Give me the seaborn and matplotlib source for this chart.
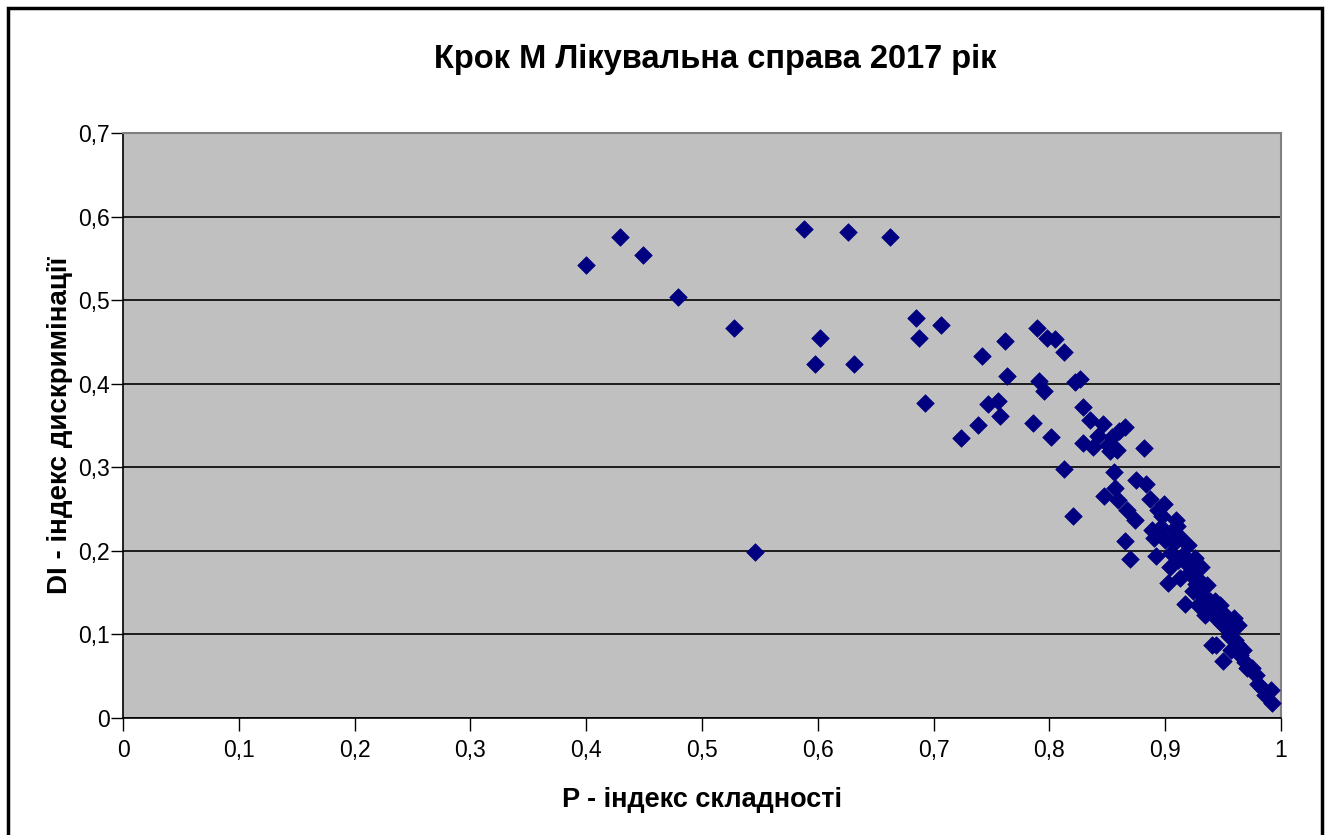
import pandas as pd
import seaborn as sns
import matplotlib.pyplot as plt
from matplotlib.patches import Rectangle
from matplotlib.ticker import FuncFormatter, MultipleLocator

# P - difficulty index, DI - discrimination index
p_index = [
    0.400, 0.429, 0.449, 0.479, 0.528, 0.546, 0.588, 0.598, 0.602, 0.626,
    0.631, 0.662, 0.685, 0.687, 0.706, 0.693, 0.724, 0.738, 0.742, 0.747,
    0.756, 0.757, 0.762, 0.763, 0.786, 0.789, 0.791, 0.795, 0.798, 0.801,
    0.805, 0.813, 0.813, 0.820, 0.822, 0.826, 0.829, 0.829, 0.835, 0.838,
    0.842, 0.846, 0.847, 0.851, 0.854, 0.856, 0.857, 0.860, 0.858, 0.865,
    0.852, 0.859, 0.865, 0.867, 0.870, 0.874, 0.875, 0.882, 0.883, 0.887,
    0.889, 0.892, 0.894, 0.897, 0.899, 0.900, 0.902, 0.904, 0.907, 0.908,
    0.909, 0.911, 0.913, 0.915, 0.917, 0.920, 0.921, 0.924, 0.926, 0.928,
    0.929, 0.931, 0.933, 0.934, 0.936, 0.939, 0.940, 0.942, 0.944, 0.946,
    0.947, 0.950, 0.952, 0.954, 0.957, 0.959, 0.960, 0.963, 0.965, 0.967,
    0.969, 0.971, 0.975, 0.978, 0.980, 0.984, 0.986, 0.991, 0.992,
    0.890, 0.896, 0.905, 0.912, 0.918, 0.923, 0.930, 0.937, 0.943, 0.949,
    0.955, 0.962, 0.910, 0.927, 0.945,
]
di_index = [
    0.542, 0.576, 0.554, 0.504, 0.467, 0.199, 0.585, 0.424, 0.455, 0.582,
    0.424, 0.576, 0.479, 0.455, 0.470, 0.377, 0.335, 0.351, 0.433, 0.376,
    0.379, 0.361, 0.451, 0.409, 0.353, 0.467, 0.403, 0.391, 0.455, 0.336,
    0.454, 0.438, 0.298, 0.242, 0.402, 0.406, 0.372, 0.329, 0.357, 0.324,
    0.337, 0.352, 0.266, 0.327, 0.336, 0.294, 0.275, 0.343, 0.321, 0.348,
    0.320, 0.261, 0.212, 0.249, 0.190, 0.237, 0.285, 0.323, 0.280, 0.262,
    0.225, 0.194, 0.249, 0.242, 0.256, 0.213, 0.162, 0.181, 0.225, 0.209,
    0.237, 0.189, 0.168, 0.195, 0.136, 0.207, 0.175, 0.152, 0.191, 0.135,
    0.165, 0.181, 0.146, 0.123, 0.159, 0.140, 0.087, 0.132, 0.087, 0.117,
    0.135, 0.068, 0.123, 0.105, 0.081, 0.120, 0.093, 0.111, 0.075, 0.081,
    0.067, 0.060, 0.060, 0.051, 0.041, 0.036, 0.028, 0.034, 0.018,
    0.215, 0.228, 0.198, 0.218, 0.186, 0.170, 0.150, 0.128, 0.140, 0.112,
    0.098, 0.088, 0.230, 0.160, 0.125,
]

df = pd.DataFrame({'P': p_index, 'DI': di_index})

sns.set_style('white')
plt.rcParams['font.family'] = ['Liberation Sans', 'DejaVu Sans']
plt.rcParams['text.color'] = 'black'
plt.rcParams['axes.labelcolor'] = 'black'
plt.rcParams['xtick.color'] = 'black'
plt.rcParams['ytick.color'] = 'black'

fig = plt.figure(figsize=(13.3, 8.35), dpi=100)
ax = fig.add_axes([123 / 1330, 1 - 718 / 835, (1281 - 123) / 1330, (718 - 133) / 835])
ax.set_facecolor('#C0C0C0')

sns.scatterplot(data=df, x='P', y='DI', marker='D', color='#000080',
                edgecolor='#000080', s=80, linewidth=0.5, ax=ax, zorder=3)

ax.set_xlim(0, 1)
ax.set_ylim(0, 0.7)
ax.xaxis.set_major_locator(MultipleLocator(0.1))
ax.yaxis.set_major_locator(MultipleLocator(0.1))
fmt = FuncFormatter(lambda v, pos: ('%g' % round(v, 2)).replace('.', ','))
ax.xaxis.set_major_formatter(fmt)
ax.yaxis.set_major_formatter(fmt)
ax.grid(axis='y', color='black', linewidth=1.2)
ax.set_axisbelow(True)

for side in ['top', 'right']:
    ax.spines[side].set_color('#808080')
    ax.spines[side].set_linewidth(1.5)
for side in ['left', 'bottom']:
    ax.spines[side].set_color('black')
    ax.spines[side].set_linewidth(1.2)

ax.tick_params(axis='both', direction='out', length=9, width=1, color='black',
               labelcolor='black', labelsize=16.5, left=True, bottom=True)
ax.tick_params(axis='x', pad=6)
ax.tick_params(axis='y', pad=0.5)

fig.text(0.538, 1 - 59 / 835, 'Крок М Лікувальна справа 2017 рік', fontsize=23.5,
         fontweight='bold', ha='center', va='center', color='black')
ax.set_xlabel('P - індекс складності', fontsize=19.5, fontweight='bold', labelpad=18)
ax.set_ylabel('DI - індекс дискримінації', fontsize=20, fontweight='bold')
ax.yaxis.set_label_coords(-0.043, 0.5)

# outer chart frame
fig.patches.append(Rectangle((8 / 1330, -0.05), (1322 - 8) / 1330, 1.05 - 8 / 835,
                             transform=fig.transFigure, fill=False,
                             edgecolor='black', linewidth=2.5))

fig.savefig('out.png', dpi=100, facecolor='white')
